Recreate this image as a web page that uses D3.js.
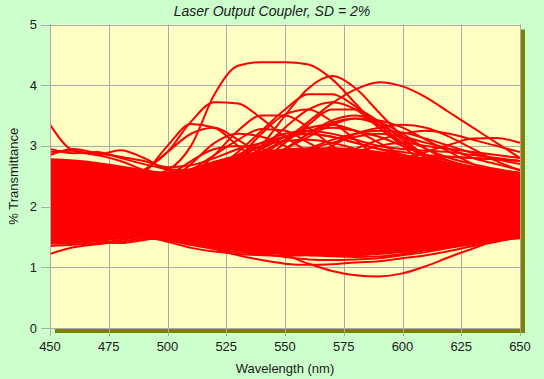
<!DOCTYPE html>
<html><head><meta charset="utf-8">
<script src="https://cdn.jsdelivr.net/npm/d3@7/dist/d3.min.js"></script>
<style>
html,body{margin:0;padding:0;background:#ccffcc;}
svg{display:block;font-family:"Liberation Sans",Arial,sans-serif;}
</style></head>
<body><svg id="chart" width="544" height="379"></svg>
<script>
const title = "Laser Output Coupler, SD = 2%";
const xLabel = "Wavelength (nm)";
const yLabel = "% Transmittance";
const xTicks = [450,475,500,525,550,575,600,625,650];
const yTicks = [0,1,2,3,4,5];
const wavelengths = [450,460,470,480,490,500,510,520,530,540,550,560,570,580,590,600,610,620,630,640,650];

// dense core of overlapping curves (upper / lower envelope)
const coreUpper = [2.78,2.76,2.72,2.66,2.6,2.56,2.62,2.74,2.84,2.9,2.94,2.96,2.96,2.94,2.9,2.85,2.79,2.72,2.66,2.6,2.56];
const coreLower = [1.39,1.4,1.43,1.48,1.5,1.45,1.37,1.32,1.28,1.26,1.24,1.22,1.2,1.2,1.22,1.25,1.29,1.34,1.39,1.44,1.48];

// individual visible curves
const curves = [
 [2.5,2.55,2.5,2.45,2.5,2.6,3.0,3.85,4.32,4.38,4.38,4.34,4.1,3.7,3.3,3.05,2.85,2.7,2.6,2.5,2.45],
 [2.4,2.3,2.35,2.4,2.6,2.9,3.4,3.72,3.7,3.45,3.15,2.9,2.7,2.5,2.4,2.3,2.25,2.2,2.2,2.2,2.2],
 [2.0,2.0,2.0,2.05,2.1,2.15,2.2,2.3,2.6,3.0,3.5,3.95,4.15,3.95,3.55,3.15,2.8,2.5,2.3,2.1,2.0],
 [1.9,1.9,1.95,2.0,2.05,2.1,2.2,2.4,2.6,2.85,3.1,3.4,3.7,3.93,4.05,3.98,3.8,3.55,3.3,3.05,2.8],
 [2.1,2.1,2.1,2.1,2.1,2.2,2.35,2.6,2.9,3.25,3.6,3.85,3.85,3.65,3.35,3.05,2.8,2.6,2.45,2.3,2.2],
 [2.0,2.0,2.0,2.0,2.0,2.0,2.0,2.05,2.1,2.15,2.2,2.25,2.3,2.45,2.6,2.75,2.9,3.02,3.12,3.13,3.05],
 [2.2,2.2,2.25,2.35,2.55,3.0,3.36,3.3,3.0,2.7,2.45,2.3,2.2,2.1,2.1,2.1,2.1,2.1,2.1,2.1,2.1],
 [3.35,2.92,2.85,2.75,2.6,2.5,2.4,2.3,2.25,2.2,2.2,2.2,2.2,2.2,2.2,2.2,2.2,2.2,2.2,2.2,2.2],
 [2.9,2.92,2.85,2.93,2.8,2.6,2.55,2.6,2.65,2.7,2.7,2.7,2.65,2.6,2.55,2.5,2.45,2.4,2.35,2.3,2.3],
 [1.9,1.9,1.95,2.0,2.0,2.1,2.3,2.5,2.8,3.2,3.52,3.6,3.4,3.1,2.8,2.6,2.4,2.3,2.2,2.1,2.0],
 [1.8,1.8,1.8,1.85,1.9,2.0,2.1,2.3,2.6,2.95,3.3,3.6,3.72,3.6,3.3,3.0,2.7,2.5,2.35,2.2,2.1],
 [2.2,2.2,2.2,2.2,2.2,2.25,2.3,2.4,2.55,2.75,2.95,3.2,3.42,3.5,3.4,3.2,2.95,2.75,2.6,2.5,2.4],
 [2.3,2.3,2.3,2.3,2.3,2.4,2.6,2.85,3.1,3.28,3.25,3.05,2.85,2.65,2.5,2.4,2.3,2.25,2.2,2.2,2.2],
 [2.0,2.0,2.0,2.0,2.0,2.0,2.05,2.1,2.2,2.35,2.55,2.8,3.0,3.2,3.3,3.35,3.3,3.15,2.95,2.75,2.6],
 [2.4,2.4,2.4,2.4,2.4,2.4,2.45,2.5,2.6,2.7,2.85,2.95,3.05,3.15,3.2,3.15,3.05,2.95,2.8,2.7,2.6],
 [2.5,2.5,2.45,2.45,2.4,2.45,2.55,2.7,2.85,3.0,3.08,3.1,3.05,2.95,2.8,2.7,2.6,2.5,2.45,2.4,2.4],
 [1.9,1.9,1.9,1.9,1.95,2.0,2.1,2.25,2.45,2.7,2.95,3.15,3.35,3.45,3.42,3.3,3.1,2.9,2.7,2.55,2.4],
 [2.3,2.3,2.3,2.3,2.35,2.5,2.75,2.95,3.0,2.95,2.85,2.75,2.65,2.6,2.55,2.5,2.5,2.45,2.4,2.4,2.4],
 [2.1,2.1,2.1,2.1,2.1,2.1,2.1,2.15,2.2,2.3,2.45,2.6,2.8,2.95,3.1,3.2,3.25,3.2,3.1,3.0,2.9],
 [2.0,2.0,2.0,2.05,2.1,2.2,2.5,2.85,3.25,3.5,3.5,3.3,3.0,2.75,2.55,2.4,2.3,2.2,2.1,2.05,2.0],
 [2.2,2.2,2.2,2.2,2.2,2.2,2.25,2.35,2.5,2.75,3.05,3.35,3.6,3.6,3.4,3.1,2.85,2.65,2.5,2.4,2.3],
 [2.4,2.4,2.4,2.4,2.4,2.4,2.45,2.55,2.75,2.95,3.15,3.3,3.35,3.25,3.05,2.85,2.7,2.6,2.5,2.45,2.4],
 [2.95,2.88,2.9,2.8,2.7,2.62,2.6,2.65,2.7,2.75,2.8,2.85,2.85,2.8,2.75,2.7,2.65,2.6,2.55,2.5,2.5],
 [2.3,2.3,2.3,2.4,2.6,2.9,3.2,3.3,3.1,2.85,2.65,2.5,2.4,2.35,2.3,2.3,2.3,2.3,2.3,2.3,2.3],
 [2.2,2.2,2.2,2.2,2.2,2.2,2.2,2.25,2.3,2.35,2.4,2.45,2.5,2.6,2.7,2.78,2.8,2.82,2.8,2.78,2.75],
 [2.3,2.3,2.3,2.3,2.3,2.3,2.3,2.35,2.4,2.5,2.6,2.7,2.8,2.9,3.0,3.05,3.0,2.95,2.9,2.85,2.8],
 [2.1,2.1,2.1,2.15,2.2,2.4,2.7,3.05,3.2,3.15,3.0,2.8,2.6,2.45,2.35,2.3,2.25,2.2,2.2,2.2,2.2],
 [2.85,2.95,2.88,2.82,2.75,2.65,2.68,2.8,2.95,3.05,3.15,3.2,3.15,3.05,2.95,2.85,2.78,2.7,2.65,2.6,2.55],
 [2.2,2.2,2.2,2.2,2.2,2.25,2.35,2.5,2.7,2.9,3.1,3.25,3.3,3.25,3.15,3.0,2.85,2.75,2.65,2.6,2.55],
 [2.0,2.0,2.0,2.0,2.0,2.05,2.1,2.2,2.35,2.55,2.75,2.95,3.1,3.2,3.25,3.22,3.12,3.0,2.88,2.78,2.7],
 [2.3,2.3,2.3,2.3,2.3,2.35,2.45,2.6,2.8,3.0,3.15,3.2,3.15,3.05,2.95,2.9,2.85,2.82,2.8,2.78,2.75],
 [2.1,2.1,2.1,2.1,2.1,2.1,2.15,2.25,2.45,2.7,2.95,3.2,3.38,3.45,3.35,3.15,2.95,2.8,2.7,2.62,2.55],
 [2.4,2.4,2.4,2.4,2.4,2.4,2.5,2.65,2.85,3.05,3.2,3.25,3.2,3.1,3.0,2.95,2.92,2.9,2.85,2.8,2.75],
 [1.22,1.33,1.38,1.42,1.47,1.45,1.4,1.38,1.4,1.42,1.45,1.5,1.55,1.6,1.6,1.6,1.6,1.6,1.6,1.6,1.6],
 [1.6,1.6,1.6,1.6,1.6,1.6,1.5,1.42,1.35,1.3,1.2,1.06,0.94,0.87,0.85,0.9,1.02,1.17,1.31,1.45,1.58],
 [1.7,1.7,1.65,1.6,1.55,1.5,1.4,1.3,1.2,1.12,1.06,1.04,1.05,1.08,1.1,1.15,1.2,1.27,1.35,1.42,1.5],
 [1.45,1.44,1.45,1.48,1.5,1.42,1.32,1.26,1.22,1.2,1.19,1.2,1.2,1.22,1.25,1.3,1.35,1.4,1.45,1.5,1.55],
 [1.35,1.37,1.4,1.45,1.5,1.46,1.37,1.3,1.25,1.22,1.17,1.13,1.12,1.13,1.15,1.2,1.25,1.32,1.4,1.47,1.52],
 [1.5,1.48,1.42,1.4,1.45,1.5,1.45,1.35,1.28,1.24,1.22,1.2,1.18,1.17,1.18,1.22,1.28,1.33,1.38,1.44,1.5]
];

const svg = d3.select("#chart");
const pL = 50, pR = 520, pT = 24.5, pB = 328;
const x = d3.scaleLinear().domain([450,650]).range([pL,pR]);
const y = d3.scaleLinear().domain([0,5]).range([pB,pT]);

// shadow
svg.append("rect").attr("x",pL+5).attr("y",pT+5).attr("width",pR-pL).attr("height",pB-pT).attr("fill","#808000");
// plot bg
svg.append("rect").attr("x",pL).attr("y",pT).attr("width",pR-pL).attr("height",pB-pT).attr("fill","#ffffc4");

// grid
const grid = svg.append("g").attr("stroke","#aaaaaa").attr("stroke-width",1);
xTicks.forEach(t=>{grid.append("line").attr("x1",Math.round(x(t))+0.5).attr("x2",Math.round(x(t))+0.5).attr("y1",pT).attr("y2",pB+8);});
yTicks.forEach(t=>{grid.append("line").attr("y1",Math.round(y(t))+0.5).attr("y2",Math.round(y(t))+0.5).attr("x1",pL-9).attr("x2",pR);});

svg.append("clipPath").attr("id","clip").append("rect").attr("x",pL).attr("y",pT).attr("width",pR-pL).attr("height",pB-pT);
const plot = svg.append("g").attr("clip-path","url(#clip)");

const area = d3.area().x((d,i)=>x(wavelengths[i])).y0((d,i)=>y(coreLower[i])).y1((d,i)=>y(coreUpper[i])).curve(d3.curveMonotoneX);
plot.append("path").datum(coreUpper).attr("d",area).attr("fill","#ff0000").attr("stroke","#ff0000").attr("stroke-width",2);

const line = d3.line().x((d,i)=>x(wavelengths[i])).y(d=>y(d)).curve(d3.curveMonotoneX);
plot.selectAll("path.c").data(curves).join("path").attr("class","c")
  .attr("d",line).attr("fill","none").attr("stroke","#ff0000").attr("stroke-width",2);

svg.append("line").attr("x1",pL+0.5).attr("x2",pL+0.5).attr("y1",pT).attr("y2",pB).attr("stroke","#aaaaaa");

const txt = "#1a1a1a";
svg.append("g").selectAll("text").data(yTicks).join("text")
  .attr("x",pL-13).attr("y",d=>y(d)+4.5).attr("text-anchor","end").attr("font-size",13).attr("fill",txt).text(d=>d);
svg.append("g").selectAll("text").data(xTicks).join("text")
  .attr("x",d=>x(d)).attr("y",pB+23).attr("text-anchor","middle").attr("font-size",13).attr("fill",txt).text(d=>d);

svg.append("text").attr("x",272).attr("y",16).attr("text-anchor","middle").attr("font-size",14).attr("font-style","italic").attr("fill",txt).text(title);
svg.append("text").attr("x",(pL+pR)/2).attr("y",373).attr("text-anchor","middle").attr("font-size",13).attr("fill",txt).text(xLabel);
svg.append("text").attr("transform",`translate(18,${(pT+pB)/2}) rotate(-90)`).attr("text-anchor","middle").attr("font-size",13).attr("fill",txt).text(yLabel);
</script></body></html>
